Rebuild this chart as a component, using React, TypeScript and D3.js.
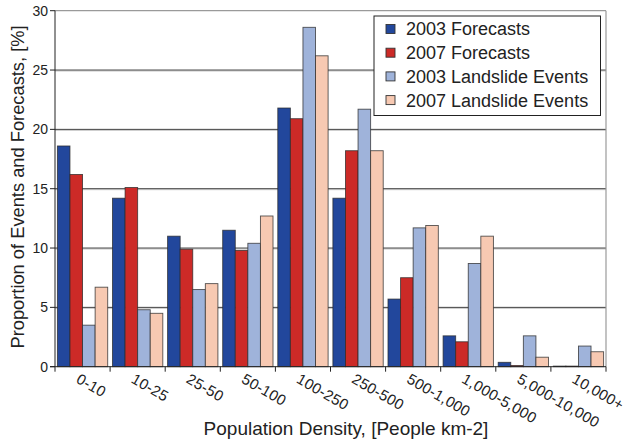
import React from "react";
import * as d3 from "d3";

const categories = ["0-10", "10-25", "25-50", "50-100", "100-250", "250-500", "500-1,000", "1,000-5,000", "5,000-10,000", "10,000+"];
const seriesNames = ["2003 Forecasts", "2007 Forecasts", "2003 Landslide Events", "2007 Landslide Events"];
const forecasts2003 = [18.6, 14.2, 11.0, 11.5, 21.8, 14.2, 5.7, 2.6, 0.37, 0.05];
const forecasts2007 = [16.2, 15.1, 9.9, 9.8, 20.9, 18.2, 7.5, 2.1, 0.1, 0.05];
const events2003 = [3.5, 4.8, 6.5, 10.4, 28.6, 21.7, 11.7, 8.7, 2.6, 1.74];
const events2007 = [6.7, 4.5, 7.0, 12.7, 26.2, 18.2, 11.9, 11.0, 0.8, 1.26];
const yTicks = [0, 5, 10, 15, 20, 25, 30];
const colors = ["#22479c", "#cc2a27", "#9fb3da", "#f7c9b2"];

const W = 627, H = 441;
const left = 55, right = 606, top = 10.7, bottom = 366.7;
const FONT = "'Liberation Sans', Arial, sans-serif";

export default function App() {
  const series = [forecasts2003, forecasts2007, events2003, events2007];
  const x0 = d3.scaleBand<string>().domain(categories).range([left, right]).paddingInner(0).paddingOuter(0);
  const x1 = d3.scaleBand<number>().domain([0, 1, 2, 3]).range([0, x0.bandwidth()]).paddingOuter(0.19).paddingInner(0);
  const y = d3.scaleLinear().domain([0, 30]).range([bottom, top]);

  return (
    <svg width={W} height={H} style={{ position: "absolute", left: 0, top: 0, background: "#fff" }} fontFamily={FONT}>
      {/* gridlines */}
      {yTicks.filter(t => t > 0 && t < 30).map(t => (
        <g key={t}>
          <line x1={left} x2={right} y1={y(t) + 1} y2={y(t) + 1} stroke="#c8c8c8" strokeWidth={1} />
          <line x1={left} x2={right} y1={y(t)} y2={y(t)} stroke="#404040" strokeWidth={1} />
        </g>
      ))}
      {/* top & right border */}
      <line x1={left} x2={right} y1={top} y2={top} stroke="#9a9a9a" strokeWidth={1.2} />
      <line x1={right} x2={right} y1={top} y2={bottom} stroke="#9a9a9a" strokeWidth={1.2} />
      {/* bars */}
      {categories.map((c, i) => (
        <g key={c}>
          {series.map((s, j) => (
            <rect key={j}
              x={(x0(c) as number) + (x1(j) as number)}
              y={y(s[i])}
              width={x1.bandwidth()}
              height={bottom - y(s[i])}
              fill={colors[j]}
              stroke="#2a2a2a"
              strokeOpacity={0.8}
              strokeWidth={0.9} />
          ))}
        </g>
      ))}
      {/* axes */}
      <line x1={left} x2={left} y1={top} y2={bottom} stroke="#222" strokeWidth={1} />
      <line x1={left - 5} x2={right} y1={bottom} y2={bottom} stroke="#222" strokeWidth={1} />
      {yTicks.map(t => (
        <g key={t}>
          <line x1={left - 5} x2={left} y1={y(t)} y2={y(t)} stroke="#222" />
          <text x={left - 7} y={y(t)} dy="0.35em" textAnchor="end" fontSize={14} fill="#222">{t}</text>
        </g>
      ))}
      {categories.map((c, i) => (
        <line key={"t" + i} x1={(x0(c) as number)} x2={(x0(c) as number)} y1={bottom} y2={bottom + 5} stroke="#222" />
      ))}
      <line x1={right} x2={right} y1={bottom} y2={bottom + 5} stroke="#222" />
      {categories.map((c, i) => {
        const cx = (x0(c) as number) + x0.bandwidth() / 2 - 2;
        return (
          <text key={"l" + i} transform={`translate(${cx},${bottom + 6}) rotate(30)`} fontSize={15} letterSpacing={0.3} fill="#222" dy="0.72em">{c}</text>
        );
      })}
      {/* titles */}
      <text x={346} y={435} textAnchor="middle" fontSize={19} fill="#222">Population Density, [People km-2]</text>
      <text transform={`translate(24,187) rotate(-90)`} textAnchor="middle" fontSize={18.3} fill="#222">Proportion of Events and Forecasts, [%]</text>
      {/* legend */}
      <rect x={374} y={16} width={226.5} height={99.5} fill="#fff" stroke="#222" strokeWidth={1} />
      {seriesNames.map((n, j) => (
        <g key={n} transform={`translate(0,${29 + j * 23.7})`}>
          <rect x={386} y={-4.5} width={9} height={9} fill={colors[j]} stroke="#333" strokeWidth={0.9} />
          <text x={406} y={0} dy="0.36em" fontSize={18} fill="#222">{n}</text>
        </g>
      ))}
    </svg>
  );
}
